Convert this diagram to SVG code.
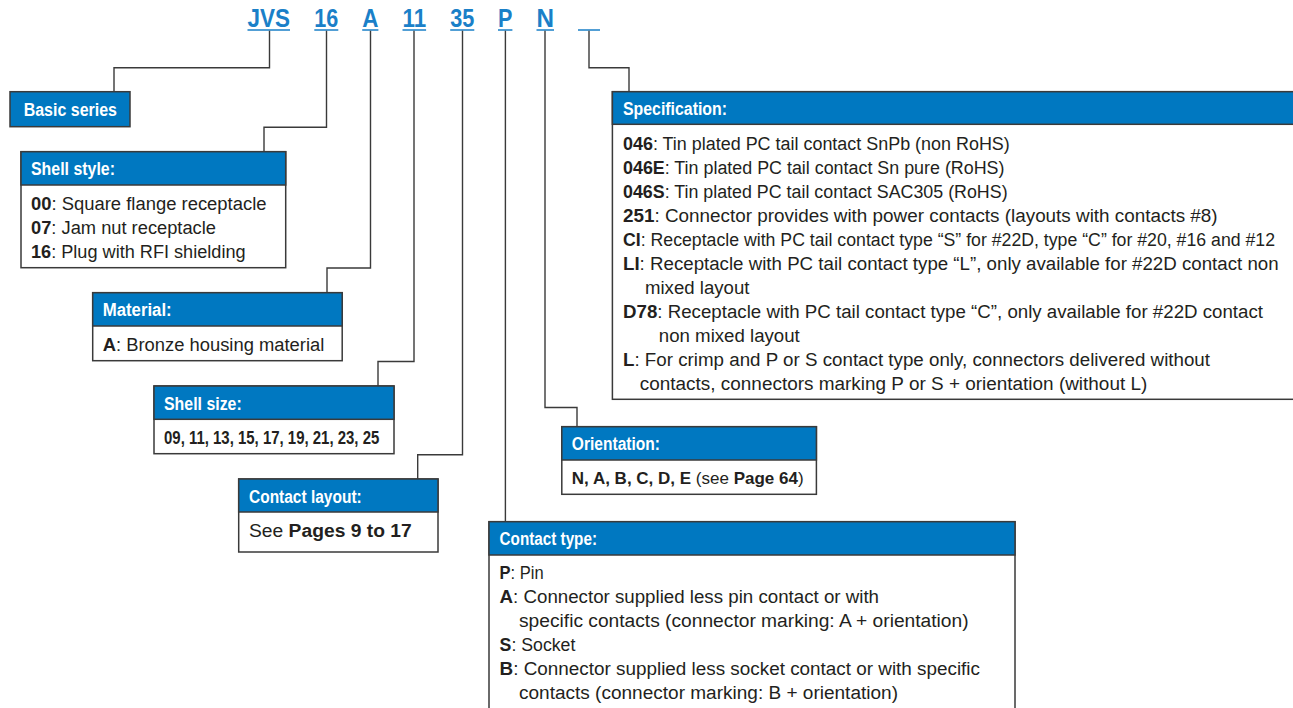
<svg xmlns="http://www.w3.org/2000/svg" width="1293" height="708" viewBox="0 0 1293 708">
<style>
.bg{fill:#ffffff}
.box{fill:#ffffff;stroke:#3a3a3a;stroke-width:1.5}
.hdr{fill:#0078c1;stroke:#3a3a3a;stroke-width:1.5}
.ht{font-family:"Liberation Sans Narrow","Liberation Sans",Arial,sans-serif;font-weight:bold;font-size:18px;fill:#ffffff}
.bt{font-family:"Liberation Sans",Arial,sans-serif;font-size:18px;fill:#231f20}
.b{font-weight:bold}
.code{font-family:"Liberation Sans Narrow","Liberation Sans",Arial,sans-serif;font-weight:bold;font-size:26px;fill:#1a80c8}
.ul{stroke:#1a80c8;stroke-width:1.4;fill:none}
.con{fill:none;stroke:#3a3a3a;stroke-width:1.4}
</style>
<rect class="bg" x="0" y="0" width="1293" height="708"/>

<g id="code">
<text class="code" x="247.5" y="27" textLength="42.5" lengthAdjust="spacingAndGlyphs">JVS</text>
<text class="code" x="314.3" y="27" textLength="24" lengthAdjust="spacingAndGlyphs">16</text>
<text class="code" x="362.2" y="27" textLength="16.2" lengthAdjust="spacingAndGlyphs">A</text>
<text class="code" x="402.5" y="27" textLength="23.6" lengthAdjust="spacingAndGlyphs">11</text>
<text class="code" x="450.2" y="27" textLength="24.1" lengthAdjust="spacingAndGlyphs">35</text>
<text class="code" x="498" y="27" textLength="14.4" lengthAdjust="spacingAndGlyphs">P</text>
<text class="code" x="536.5" y="27" textLength="17.5" lengthAdjust="spacingAndGlyphs">N</text>
<path class="ul" d="M247.5,30H290 M314.3,30H338.3 M362.2,30H378.4 M402.5,30H426.1 M450.2,30H474.3 M498,30H512.4 M536.5,30H554 M578,30H600"/>
</g>

<g id="connectors">
<path class="con" d="M269.5,30.7V67.7H114V91.7"/>
<path class="con" d="M326.5,30.7V127.3H264V151.7"/>
<path class="con" d="M370.5,30.7V268H327V292.7"/>
<path class="con" d="M414,30.7V361.5H378V386"/>
<path class="con" d="M462.5,30.7V454.7H417.7V479"/>
<path class="con" d="M505.4,30.7V521.7"/>
<path class="con" d="M545,30.7V407.5H577V426.7"/>
<path class="con" d="M589,30.7V67.7H629V91.7"/>
</g>

<g id="basic-series">
<rect class="hdr" x="10" y="91.7" width="120" height="35"/>
<text class="ht" x="23.7" y="115.7" textLength="93.3" lengthAdjust="spacingAndGlyphs">Basic series</text>
</g>

<g id="shell-style">
<rect class="box" x="21" y="151.7" width="264.7" height="116"/>
<rect class="hdr" x="21" y="151.7" width="264.7" height="33.3"/>
<text class="ht" x="31" y="175" textLength="84" lengthAdjust="spacingAndGlyphs">Shell style:</text>
<text class="bt" x="31" y="210" textLength="235.5" lengthAdjust="spacingAndGlyphs"><tspan class="b">00</tspan>: Square flange receptacle</text>
<text class="bt" x="31" y="234" textLength="185" lengthAdjust="spacingAndGlyphs"><tspan class="b">07</tspan>: Jam nut receptacle</text>
<text class="bt" x="31" y="258" textLength="214.6" lengthAdjust="spacingAndGlyphs"><tspan class="b">16</tspan>: Plug with RFI shielding</text>
</g>

<g id="material">
<rect class="box" x="92.7" y="292.7" width="249.5" height="68"/>
<rect class="hdr" x="92.7" y="292.7" width="249.5" height="33.3"/>
<text class="ht" x="102.7" y="316" textLength="69" lengthAdjust="spacingAndGlyphs">Material:</text>
<text class="bt" x="102.7" y="351" textLength="221.6" lengthAdjust="spacingAndGlyphs"><tspan class="b">A</tspan>: Bronze housing material</text>
</g>

<g id="shell-size">
<rect class="box" x="154" y="386" width="240" height="67.7"/>
<rect class="hdr" x="154" y="386" width="240" height="33.3"/>
<text class="ht" x="164" y="409.5" textLength="77.7" lengthAdjust="spacingAndGlyphs">Shell size:</text>
<text class="bt b" x="164" y="443.5" textLength="215.3" lengthAdjust="spacingAndGlyphs">09, 11, 13, 15, 17, 19, 21, 23, 25</text>
</g>

<g id="contact-layout">
<rect class="box" x="238.7" y="479" width="199.3" height="73"/>
<rect class="hdr" x="238.7" y="479" width="199.3" height="33"/>
<text class="ht" x="249" y="502.5" textLength="112.7" lengthAdjust="spacingAndGlyphs">Contact layout:</text>
<text class="bt" x="249" y="537" textLength="162.7" lengthAdjust="spacingAndGlyphs">See <tspan class="b">Pages 9 to 17</tspan></text>
</g>

<g id="orientation">
<rect class="box" x="561.8" y="426.7" width="254.6" height="67.6"/>
<rect class="hdr" x="561.8" y="426.7" width="254.6" height="33.3"/>
<text class="ht" x="571.8" y="450" textLength="88.2" lengthAdjust="spacingAndGlyphs">Orientation:</text>
<text class="bt" x="571.8" y="484" style="font-size:17px"><tspan class="b">N, A, B, C, D, E</tspan> (see <tspan class="b">Page 64</tspan>)</text>
</g>

<g id="contact-type">
<rect class="box" x="489" y="521.7" width="526" height="220"/>
<rect class="hdr" x="489" y="521.7" width="526" height="33.3"/>
<text class="ht" x="499.6" y="545" textLength="97.4" lengthAdjust="spacingAndGlyphs">Contact type:</text>
<text class="bt" x="499.6" y="578.5" textLength="44" lengthAdjust="spacingAndGlyphs"><tspan class="b">P</tspan>: Pin</text>
<text class="bt" x="499.6" y="602.5" textLength="379.4" lengthAdjust="spacingAndGlyphs"><tspan class="b">A</tspan>: Connector supplied less pin contact or with</text>
<text class="bt" x="519" y="626.5" textLength="449.6" lengthAdjust="spacingAndGlyphs">specific contacts (connector marking: A + orientation)</text>
<text class="bt" x="499.6" y="650.5" textLength="75.8" lengthAdjust="spacingAndGlyphs"><tspan class="b">S</tspan>: Socket</text>
<text class="bt" x="499.6" y="674.5" textLength="480.4" lengthAdjust="spacingAndGlyphs"><tspan class="b">B</tspan>: Connector supplied less socket contact or with specific</text>
<text class="bt" x="519" y="698.5" textLength="379" lengthAdjust="spacingAndGlyphs">contacts (connector marking: B + orientation)</text>
</g>

<g id="specification">
<rect class="box" x="612.4" y="91.7" width="700" height="307.6"/>
<rect class="hdr" x="612.4" y="91.7" width="700" height="32.6"/>
<text class="ht" x="623" y="114.5" textLength="104" lengthAdjust="spacingAndGlyphs">Specification:</text>
<text class="bt" x="623" y="149.5" textLength="386.8" lengthAdjust="spacingAndGlyphs"><tspan class="b">046</tspan>: Tin plated PC tail contact SnPb (non RoHS)</text>
<text class="bt" x="623" y="173.5" textLength="381.5" lengthAdjust="spacingAndGlyphs"><tspan class="b">046E</tspan>: Tin plated PC tail contact Sn pure (RoHS)</text>
<text class="bt" x="623" y="197.5" textLength="384.6" lengthAdjust="spacingAndGlyphs"><tspan class="b">046S</tspan>: Tin plated PC tail contact SAC305 (RoHS)</text>
<text class="bt" x="623" y="221.5" textLength="594.6" lengthAdjust="spacingAndGlyphs"><tspan class="b">251</tspan>: Connector provides with power contacts (layouts with contacts #8)</text>
<text class="bt" x="623" y="245.5" textLength="652" lengthAdjust="spacingAndGlyphs"><tspan class="b">CI</tspan>: Receptacle with PC tail contact type “S” for #22D, type “C” for #20, #16 and #12</text>
<text class="bt" x="623" y="269.5" textLength="655.6" lengthAdjust="spacingAndGlyphs"><tspan class="b">LI</tspan>: Receptacle with PC tail contact type “L”, only available for #22D contact non</text>
<text class="bt" x="645" y="293.5" textLength="104.4" lengthAdjust="spacingAndGlyphs">mixed layout</text>
<text class="bt" x="623" y="317.5" textLength="640" lengthAdjust="spacingAndGlyphs"><tspan class="b">D78</tspan>: Receptacle with PC tail contact type “C”, only available for #22D contact</text>
<text class="bt" x="658.8" y="341.5" textLength="141" lengthAdjust="spacingAndGlyphs">non mixed layout</text>
<text class="bt" x="623" y="365.5" textLength="587" lengthAdjust="spacingAndGlyphs"><tspan class="b">L</tspan>: For crimp and P or S contact type only, connectors delivered without</text>
<text class="bt" x="639.8" y="389.5" textLength="507.5" lengthAdjust="spacingAndGlyphs">contacts, connectors marking P or S + orientation (without L)</text>
</g>
</svg>
